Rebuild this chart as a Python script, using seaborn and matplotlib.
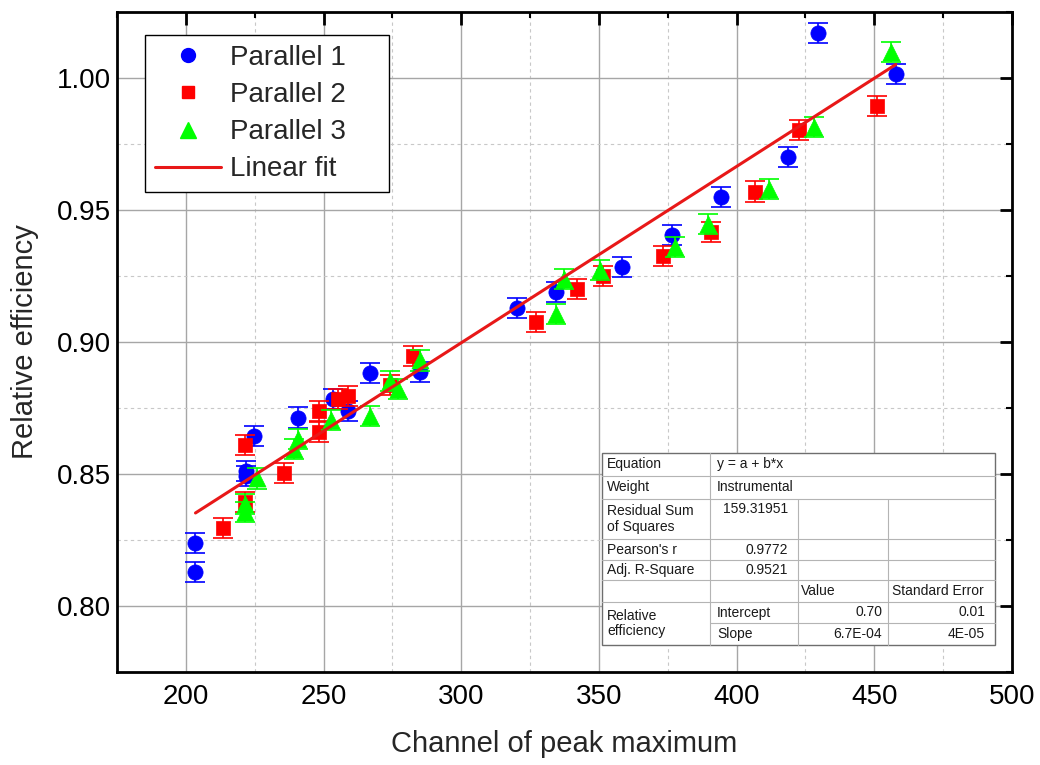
import numpy as np
import pandas as pd
import matplotlib
matplotlib.use("Agg")
import matplotlib.pyplot as plt
import seaborn as sns
from matplotlib.lines import Line2D
from matplotlib.patches import Rectangle
from matplotlib.ticker import MultipleLocator, FormatStrFormatter

# ---------------- data ----------------
p1_x = [203.5, 203.5, 221.8, 221.8, 224.8, 240.6, 253.4, 258.9, 266.8, 285.0,
        320.1, 334.3, 358.3, 376.4, 394.4, 418.6, 429.7, 457.8]
p1_y = [0.8130, 0.8237, 0.8512, 0.8493, 0.8645, 0.8714, 0.8785, 0.8738, 0.8884, 0.8886,
        0.9128, 0.9188, 0.9283, 0.9406, 0.9549, 0.9702, 1.0170, 1.0014]

p2_x = [213.6, 221.5, 221.5, 235.8, 248.5, 248.5, 255.2, 258.9, 274.0, 282.6,
        327.0, 342.2, 351.3, 373.4, 390.7, 406.6, 422.5, 450.8]
p2_y = [0.8294, 0.8609, 0.8394, 0.8505, 0.8737, 0.8659, 0.8785, 0.8794, 0.8838, 0.8948,
        0.9074, 0.9200, 0.9250, 0.9325, 0.9415, 0.9570, 0.9804, 0.9893]

p3_x = [221.5, 221.5, 226.0, 239.2, 240.9, 252.8, 266.8, 274.1, 277.1, 285.0,
        334.3, 337.3, 350.5, 377.5, 389.7, 411.8, 428.0, 455.9]
p3_y = [0.8385, 0.8357, 0.8483, 0.8595, 0.8632, 0.8703, 0.8720, 0.8854, 0.8823, 0.8930,
        0.9106, 0.9239, 0.9273, 0.9359, 0.9448, 0.9580, 0.9813, 1.0097]

p1_err = [0.0038] * len(p1_x)
p2_err = [0.0038] * len(p2_x)
p3_err = [0.0038] * len(p3_x)

series_names = ["Parallel 1", "Parallel 2", "Parallel 3"]
fit_label = "Linear fit"
fit_intercept = 0.6993
fit_slope = 6.68e-4

x_label = "Channel of peak maximum"
y_label = "Relative efficiency"

table_rows = [
    ["Equation", "y = a + b*x"],
    ["Weight", "Instrumental"],
    ["Residual Sum\nof Squares", "159.31951", "", ""],
    ["Pearson's r", "0.9772", "", ""],
    ["Adj. R-Square", "0.9521", "", ""],
    ["", "", "Value", "Standard Error"],
    ["Relative\nefficiency", "Intercept", "0.70", "0.01"],
    ["", "Slope", "6.7E-04", "4E-05"],
]

# ---------------- style ----------------
sns.set_style("white")
plt.rcParams['font.family'] = ['Liberation Sans', 'DejaVu Sans']

W, H = 1040, 765
fig = plt.figure(figsize=(W / 100, H / 100), dpi=100)
ax = fig.add_axes([117 / W, 1 - 672 / H, (1012 - 117) / W, (672 - 12) / H])

colors = ["#0000FF", "#FF0000", "#00FF00"]
markers = ["o", "s", "^"]
sizes = [120, 100, 150]

df = pd.concat([
    pd.DataFrame({"channel": p1_x, "eff": p1_y, "err": p1_err, "series": series_names[0]}),
    pd.DataFrame({"channel": p2_x, "eff": p2_y, "err": p2_err, "series": series_names[1]}),
    pd.DataFrame({"channel": p3_x, "eff": p3_y, "err": p3_err, "series": series_names[2]}),
], ignore_index=True)

for i, name in enumerate(series_names):
    sub = df[df["series"] == name]
    ax.errorbar(sub["channel"], sub["eff"], yerr=sub["err"], fmt="none",
                ecolor=colors[i], elinewidth=1.2, capsize=7, capthick=1.2,
                zorder=3 + i)
    sns.scatterplot(data=sub, x="channel", y="eff", marker=markers[i], s=sizes[i],
                    color=colors[i], edgecolor=colors[i], linewidth=0.5,
                    ax=ax, zorder=3.5 + i, legend=False)

x_fit = np.array([df["channel"].min(), df["channel"].max()])
y_fit = fit_intercept + fit_slope * x_fit
sns.lineplot(x=x_fit, y=y_fit, color="#E81818", linewidth=2.2, ax=ax, zorder=8)

# axes
ax.set_xlim(175, 500)
ax.set_ylim(0.775, 1.025)
ax.xaxis.set_major_locator(MultipleLocator(50))
ax.xaxis.set_minor_locator(MultipleLocator(25))
ax.yaxis.set_major_locator(MultipleLocator(0.05))
ax.yaxis.set_minor_locator(MultipleLocator(0.025))
ax.yaxis.set_major_formatter(FormatStrFormatter("%.2f"))
ax.set_axisbelow(True)
ax.grid(which="major", color="#a6a6a6", linewidth=1.0, linestyle="-")
ax.grid(which="minor", color="#c8c8c8", linewidth=0.8, linestyle=(0, (3, 3)))
for sp in ax.spines.values():
    sp.set_color("black")
    sp.set_linewidth(2.0)
ax.tick_params(which="both", direction="in", top=True, right=True, colors="black")
ax.tick_params(which="major", length=9, width=2.0, labelsize=20)
ax.tick_params(which="minor", length=4, width=1.5)
ax.tick_params(axis="x", which="major", pad=9)
ax.tick_params(axis="y", which="major", pad=4)
ax.set_xlabel(x_label, fontsize=21, labelpad=14)
ax.set_ylabel(y_label, fontsize=21, labelpad=13)

# legend
handles = [Line2D([], [], marker=markers[i], linestyle="none", color=colors[i],
                  markersize=[10, 9, 11][i]) for i in range(3)]
handles.append(Line2D([], [], color="#E81818", linewidth=2.2))
leg_w = (389 - 145) / 895
leg = ax.legend(handles, series_names + [fit_label], loc="upper left",
                bbox_to_anchor=(0.031, 0.965 - 0.3, leg_w, 0.3), mode="expand",
                borderaxespad=0, fontsize=20,
                frameon=True, fancybox=False, edgecolor="black", framealpha=1,
                handlelength=2.4, handletextpad=0.3, labelspacing=0.4,
                borderpad=0.36)
leg.get_frame().set_linewidth(1.0)
leg.set_zorder(20)

# ---------------- fit-results table ----------------
def fx(px):
    return px / W

def fy(py):
    return 1 - py / H

cols = [602, 710, 798, 888, 995]
rows = [453, 476, 499, 539, 560, 580, 602, 623, 645]
line_c = "#b4b4b4"

fig.add_artist(Rectangle((fx(cols[0]), fy(rows[-1])), fx(cols[-1]) - fx(cols[0]),
                         fy(rows[0]) - fy(rows[-1]), transform=fig.transFigure,
                         facecolor="white", edgecolor="#6e6e6e", linewidth=1.0, zorder=10))

def hline(y, x1, x2):
    fig.add_artist(Line2D([fx(x1), fx(x2)], [fy(y), fy(y)], transform=fig.transFigure,
                          color=line_c, linewidth=0.8, zorder=11))

def vline(x, y1, y2):
    fig.add_artist(Line2D([fx(x), fx(x)], [fy(y1), fy(y2)], transform=fig.transFigure,
                          color=line_c, linewidth=0.8, zorder=11))

for r in rows[1:-1]:
    if r == 623:
        hline(r, cols[1], cols[-1])
    else:
        hline(r, cols[0], cols[-1])
vline(cols[1], rows[0], rows[-1])
vline(cols[2], rows[2], rows[-1])
vline(cols[3], rows[2], rows[-1])

tfs = 10
tc = "#1a1a1a"
def cell_text(s, x, y, ha="left"):
    fig.text(fx(x), fy(y), s, fontsize=tfs, ha=ha, va="center", color=tc,
             zorder=12, linespacing=1.15)

for ri, row in enumerate(table_rows):
    ytop, ybot = rows[ri], rows[ri + 1]
    yc = (ytop + ybot) / 2
    if row[0]:
        if ri == 6:
            cell_text(row[0], cols[0] + 5, (rows[6] + rows[8]) / 2)
        else:
            cell_text(row[0], cols[0] + 5, yc)
    if ri in (0, 1):
        cell_text(row[1], cols[1] + 7, yc)
    elif ri in (2, 3, 4):
        ytxt = ytop + 10 if ri == 2 else yc
        cell_text(row[1], cols[2] - 10, ytxt, ha="right")
    elif ri == 5:
        cell_text(row[2], cols[2] + 3, yc)
        cell_text(row[3], cols[3] + 4, yc)
    else:
        cell_text(row[1], cols[1] + 7, yc)
        cell_text(row[2], cols[3] - 6, yc, ha="right")
        cell_text(row[3], cols[4] - 10, yc, ha="right")

fig.savefig("out.png", dpi=100)
